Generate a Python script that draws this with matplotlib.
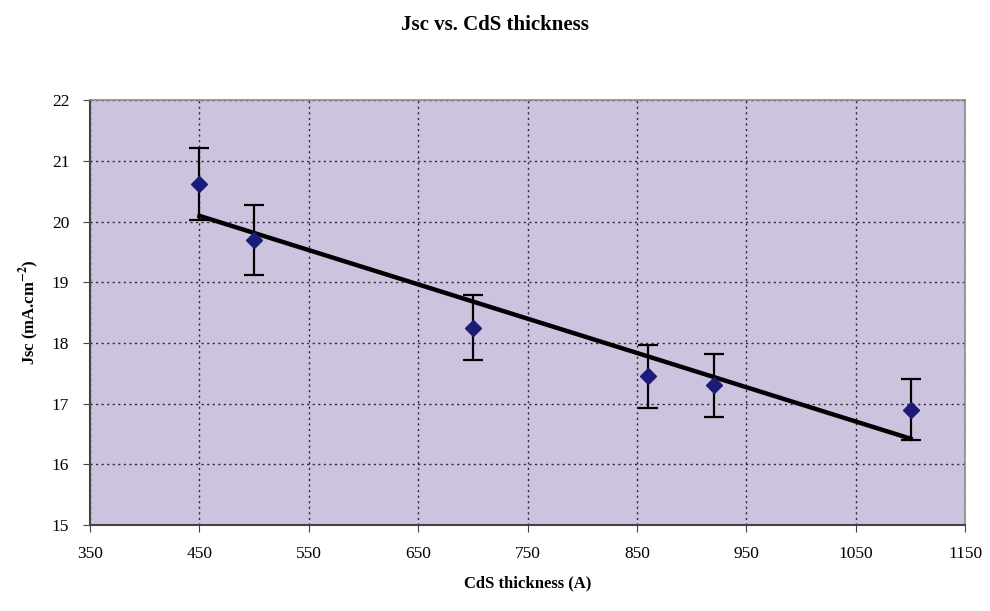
import numpy as np
import matplotlib
matplotlib.use("Agg")
import matplotlib.pyplot as plt

# thickness (A) and Jsc (mA/cm2)
thickness = [450, 500, 700, 860, 920, 1100]
jsc = [20.62, 19.70, 18.25, 17.45, 17.30, 16.90]
jsc_err = [0.60, 0.58, 0.54, 0.52, 0.52, 0.50]

x_ticks = [350, 450, 550, 650, 750, 850, 950, 1050, 1150]
y_ticks = [15, 16, 17, 18, 19, 20, 21, 22]

plt.rcParams['font.family'] = ['Liberation Serif', 'DejaVu Serif']
plt.rcParams['mathtext.fontset'] = 'stix'

fig = plt.figure(figsize=(9.9, 6.11), dpi=100)
ax = fig.add_axes([0.091, 0.141, 0.884, 0.695])
ax.set_facecolor('#ccc4de')

ax.errorbar(thickness, jsc, yerr=jsc_err, fmt='D', color='#1c1c78',
            markersize=8, ecolor='black', elinewidth=1.6, capsize=7,
            capthick=1.6, zorder=4)

# linear trend line through the measurements
slope, icpt = np.polyfit(thickness, jsc, 1)
tx = np.array([min(thickness), max(thickness)])
ax.plot(tx, slope * tx + icpt, color='black', lw=3.2, zorder=3)

ax.set_xlim(350, 1150)
ax.set_ylim(15, 22)
ax.set_xticks(x_ticks)
ax.set_yticks(y_ticks)
ax.grid(True, color='black', linestyle=(0, (1.5, 2.5)), linewidth=1.0, alpha=0.8)
ax.set_axisbelow(True)

for side in ['top', 'right']:
    ax.spines[side].set_color('#8a8a8a')
    ax.spines[side].set_linewidth(1.2)
for side in ['left', 'bottom']:
    ax.spines[side].set_color('#444444')
    ax.spines[side].set_linewidth(1.5)

ax.tick_params(axis='both', labelsize=12.5, length=5, direction='out',
               color='#444444', pad=10)

ax.set_xlabel('CdS thickness (A)', fontsize=12, fontweight='bold', labelpad=10)
ax.set_ylabel('Jsc (mA.cm$^{\\mathbf{-2}}$)', fontsize=12, fontweight='bold', labelpad=8)
fig.suptitle('Jsc vs. CdS thickness', fontsize=15, fontweight='bold', y=0.975)

fig.savefig('out.png', dpi=100)
